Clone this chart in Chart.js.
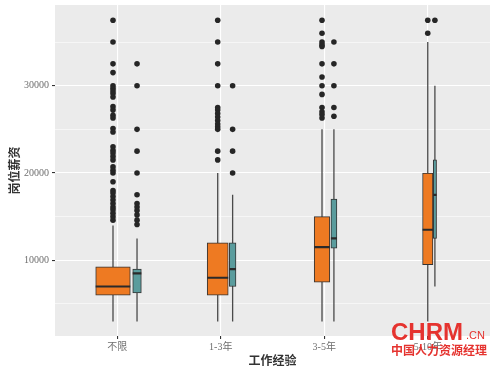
<!DOCTYPE html>
<html><head><meta charset="utf-8">
<script src="https://cdn.jsdelivr.net/npm/chart.js@4/dist/chart.umd.min.js"></script>
<style>html,body{margin:0;padding:0;background:#fff}canvas{display:block}</style>
</head><body>
<canvas id="c" width="500" height="369"></canvas>
<script>
// ---------------- data ----------------
const categories = ['不限', '1-3年', '3-5年', '5-10年'];
const seriesNames = ['系列一', '系列二'];
const yTickValues = [10000, 20000, 30000];
const yMinorValues = [5000, 15000, 25000, 35000];
const xTitle = '工作经验';
const yTitle = '岗位薪资';

// series A (orange)
const aLower  = [3000, 3000, 3000, 3000];
const aQ1     = [6000, 6000, 7500, 9500];
const aMedian = [7000, 8000, 11500, 13500];
const aQ3     = [9250, 12000, 15000, 20000];
const aUpper  = [14000, 20000, 25000, 35000];
const aOutliers = [
  [37500, 35000, 32500, 31500, 30000, 29700, 29400, 29100, 28700, 27600, 27200, 26600, 26300, 25100, 24700,
   23000, 22600, 22300, 21900, 21500, 20700, 20300, 20000, 19000, 18000, 17700, 17300, 16900, 16500, 16100,
   15800, 15400, 15000, 14600],
  [37500, 35000, 32500, 30000, 27500, 27200, 26800, 26400, 26000, 25600, 25300, 25000, 22500, 21500],
  [37500, 36000, 35000, 34700, 34500, 32500, 31000, 30000, 29000, 27500, 27000, 26700, 26300],
  [37500, 36000]
];

// series B (teal)
const bLower  = [3000, 3000, 3000, 7000];
const bQ1     = [6250, 7000, 11400, 12500];
const bMedian = [8500, 9000, 12500, 17500];
const bQ3     = [9000, 12000, 17000, 21500];
const bUpper  = [12500, 17500, 25000, 30000];
const bOutliers = [
  [32500, 30000, 25000, 22500, 20000, 17500, 16500, 16100, 15700, 15200, 14600, 14100],
  [30000, 25000, 22500, 20000],
  [35000, 32500, 30000, 27500, 26500],
  [37500]
];

// ---------------- layout / style ----------------
const PLOT = { left: 55, top: 5, right: 490, bottom: 336 };
const W = 500, H = 369;
const X_MIN = 0.4, X_MAX = 4.6;
const Y_MIN = 1330, Y_MAX = 39240;
// dodge offsets and box widths (in category units)
const aOffset = [-0.040, -0.029, -0.022, -0.001];
const bOffset = [0.192, 0.115, 0.093, 0.068];
const aWidth  = [0.334, 0.203, 0.151, 0.100];
const bWidth  = [0.083, 0.065, 0.058, 0.032];
const COLORS = { a: '#EE7A22', b: '#5A9C9D', line: '#333333', whisker: '#4a4a4a', point: '#262626' };

function pxWidth(chart, w) {
  const s = chart.scales && chart.scales.x;
  if (s && s.width) return Math.abs(s.getPixelForValue(X_MIN + w) - s.getPixelForValue(X_MIN));
  return w * (PLOT.right - PLOT.left) / (X_MAX - X_MIN);
}

function buildSeries(name, color, lower, q1, med, q3, upper, outliers, offsets, widths) {
  const ds = [];
  const whisk = [], medians = [], pts = [];
  categories.forEach((c, i) => {
    const xc = i + 1 + offsets[i];
    whisk.push({ x: xc, y: lower[i] }, { x: xc, y: upper[i] }, { x: null, y: null });
    medians.push({ x: xc - widths[i] / 2, y: med[i] }, { x: xc + widths[i] / 2, y: med[i] }, { x: null, y: null });
    outliers[i].forEach(v => pts.push({ x: xc, y: v }));
    ds.push({
      type: 'bar', label: name + ' ' + c, order: 2,
      data: [{ x: xc, y: [q1[i], q3[i]] }],
      backgroundColor: color, borderColor: COLORS.line, borderWidth: 1, borderSkipped: false,
      grouped: false,
      barThickness: ctx => pxWidth(ctx.chart, widths[i])
    });
  });
  ds.push({
    type: 'scatter', label: name + ' whiskers', order: 3, data: whisk, showLine: true, spanGaps: false,
    borderColor: COLORS.whisker, borderWidth: 1.3, pointRadius: 0, fill: false
  });
  ds.push({
    type: 'scatter', label: name + ' medians', order: 1, data: medians, showLine: true, spanGaps: false,
    borderColor: '#2a2a2a', borderWidth: 2.2, pointRadius: 0, fill: false
  });
  ds.push({
    type: 'scatter', label: name + ' outliers', order: 0, data: pts, showLine: false,
    pointRadius: 2.8, pointBackgroundColor: COLORS.point, pointBorderWidth: 0
  });
  return ds;
}

const datasets = [
  ...buildSeries(seriesNames[0], COLORS.a, aLower, aQ1, aMedian, aQ3, aUpper, aOutliers, aOffset, aWidth),
  ...buildSeries(seriesNames[1], COLORS.b, bLower, bQ1, bMedian, bQ3, bUpper, bOutliers, bOffset, bWidth)
];

const tickFont = { family: "'Liberation Serif','Noto Sans CJK SC',serif", size: 10 };
const titleFont = { family: "'Noto Sans CJK SC','Noto Sans',sans-serif", size: 12, weight: 'bold' };

const panelPlugin = {
  id: 'panel',
  beforeDraw(chart) {
    const { ctx, chartArea: a } = chart;
    ctx.save();
    ctx.fillStyle = '#ffffff';
    ctx.fillRect(0, 0, chart.width, chart.height);
    ctx.fillStyle = '#EBEBEB';
    ctx.fillRect(a.left, a.top, a.right - a.left, a.bottom - a.top);
    ctx.restore();
  }
};

const watermarkPlugin = {
  id: 'watermark',
  afterDraw(chart) {
    const ctx = chart.ctx;
    ctx.save();
    ctx.fillStyle = '#E5332F';
    ctx.textBaseline = 'alphabetic';
    ctx.textAlign = 'left';
    ctx.font = "bold 24px 'Liberation Sans', Arial, sans-serif";
    ctx.fillText('CHRM', 391, 340);
    ctx.font = "11px 'Liberation Sans', Arial, sans-serif";
    ctx.fillText('.CN', 466, 339);
    ctx.font = "bold 12px 'Noto Sans CJK SC', sans-serif";
    ctx.textBaseline = 'middle';
    ctx.fillText('中国人力资源经理', 391, 350);
    ctx.restore();
  }
};

function zeroPad(s) { s.paddingTop = 0; s.paddingBottom = 0; s.paddingLeft = 0; s.paddingRight = 0; }

new Chart(document.getElementById('c'), {
  type: 'scatter',
  data: { datasets },
  options: {
    responsive: false,
    animation: false,
    events: [],
    layout: { padding: { top: PLOT.top, right: W - PLOT.right, left: 0, bottom: 0 } },
    plugins: { legend: { display: false }, tooltip: { enabled: false } },
    scales: {
      x: {
        type: 'linear', min: X_MIN, max: X_MAX, bounds: 'data', offset: false, beginAtZero: false,
        afterBuildTicks: s => { s.ticks = categories.map((c, i) => ({ value: i + 1 })); },
        afterFit: s => { s.height = H - PLOT.bottom; zeroPad(s); },
        grid: { offset: false, color: '#ffffff', lineWidth: 1.1, tickColor: '#333333', tickLength: 3, drawTicks: true },
        border: { display: false },
        ticks: {
          callback: v => categories[Math.round(v) - 1] || '',
          font: tickFont, color: '#6e6e6e', padding: 2, maxRotation: 0, autoSkip: false
        },
        title: { display: true, text: xTitle, font: titleFont, color: '#333333', padding: { top: 0, bottom: 1 } }
      },
      y: {
        type: 'linear', min: Y_MIN, max: Y_MAX, bounds: 'data', beginAtZero: false, offset: false,
        afterBuildTicks: s => {
          s.ticks = [...yMinorValues, ...yTickValues].sort((p, q) => p - q).map(v => ({ value: v }));
        },
        afterFit: s => { s.width = PLOT.left; zeroPad(s); },
        grid: {
          offset: false,
          color: '#ffffff',
          lineWidth: ctx => (ctx.tick && yTickValues.includes(ctx.tick.value)) ? 1.1 : 0.55,
          tickColor: ctx => (ctx.tick && yTickValues.includes(ctx.tick.value)) ? '#333333' : 'rgba(0,0,0,0)',
          tickLength: 3, drawTicks: true
        },
        border: { display: false },
        ticks: {
          callback: v => yTickValues.includes(v) ? String(v) : '',
          font: tickFont, color: '#6e6e6e', padding: 3, autoSkip: false
        },
        title: { display: true, text: yTitle, font: titleFont, color: '#333333', padding: { top: 7, bottom: 0 } }
      }
    }
  },
  plugins: [panelPlugin, watermarkPlugin]
});
</script>
</body></html>
